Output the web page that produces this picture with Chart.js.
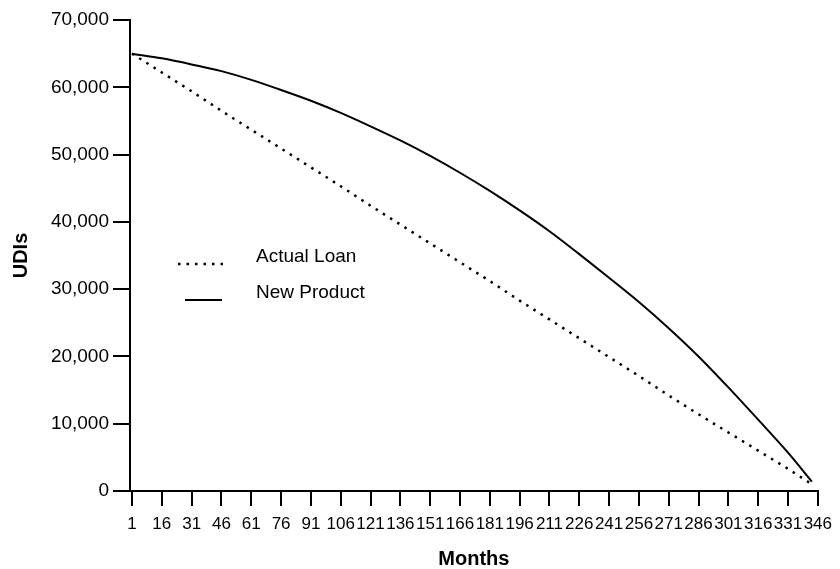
<!DOCTYPE html>
<html lang="en">
<head>
  <meta charset="UTF-8">
  <title>UDIs outstanding by month</title>
  <script src="https://cdn.jsdelivr.net/npm/chart.js"></script>
  <style>
    html, body { margin: 0; padding: 0; background: #fff; }
  </style>
</head>
<body>
  <canvas id="myChart" width="840" height="569"></canvas>
  <script>
    // Tick labels on the month axis
    const monthTicks = [1, 16, 31, 46, 61, 76, 91, 106, 121, 136, 151, 166,
                        181, 196, 211, 226, 241, 256, 271, 286, 301, 316, 331, 346];
    const pointMonths = [1, 16, 31, 46, 61, 76, 91, 106, 121, 136, 151, 166,
                         181, 196, 211, 226, 241, 256, 271, 286, 301, 316, 331, 343];
    // Balances in UDIs
    const actualLoan = [65000, 62200, 59400, 56500, 53700, 50900, 48100, 45300,
                        42400, 39600, 36800, 34000, 31200, 28300, 25500, 22700,
                        19900, 17100, 14200, 11400, 8700, 6000, 3300, 1000];
    const newProduct = [65000, 64300, 63400, 62400, 61100, 59600, 58000, 56200,
                        54200, 52100, 49800, 47300, 44600, 41700, 38600, 35200,
                        31700, 28100, 24200, 20000, 15400, 10600, 5700, 1400];
    const yTicks = [0, 10000, 20000, 30000, 40000, 50000, 60000, 70000];

    const FONT = '"Liberation Sans", Arial, Helvetica, sans-serif';
    Chart.defaults.color = '#000';
    Chart.defaults.font.family = FONT;

    // legend drawn inside the plot, next to the y axis
    const insideLegend = {
      id: 'insideLegend',
      afterDatasetsDraw(chart, args, opts) {
        const ctx = chart.ctx;
        chart.data.datasets.forEach((ds, i) => {
          const it = opts.items[i];
          ctx.save();
          ctx.strokeStyle = ds.borderColor;
          ctx.lineWidth = ds.borderWidth;
          ctx.setLineDash(ds.borderDash || []);
          ctx.beginPath();
          ctx.moveTo(it.x1, it.y);
          ctx.lineTo(it.x2, it.y);
          ctx.stroke();
          ctx.setLineDash([]);
          ctx.fillStyle = '#000';
          ctx.font = '19px ' + FONT;
          ctx.textBaseline = 'alphabetic';
          ctx.fillText(ds.label, it.tx, it.ty);
          ctx.restore();
        });
      }
    };

    const toPoints = vals => pointMonths.map((m, i) => ({ x: m, y: vals[i] }));

    const ctx = document.getElementById('myChart').getContext('2d');
    const myChart = new Chart(ctx, {
      type: 'line',
      data: {
        datasets: [{
          label: 'Actual Loan',
          data: toPoints(actualLoan),
          borderColor: '#000',
          borderWidth: 2.5,
          borderDash: [2.5, 6],
          pointRadius: 0,
          fill: false,
        }, {
          label: 'New Product',
          data: toPoints(newProduct),
          borderColor: '#000',
          borderWidth: 2,
          pointRadius: 0,
          cubicInterpolationMode: 'monotone',
          fill: false,
        }],
      },
      options: {
        responsive: false,
        animation: false,
        layout: { padding: { top: 20, right: 14, bottom: 0, left: 0 } },
        plugins: {
          legend: { display: false },
          tooltip: { enabled: false },
          insideLegend: {
            items: [
              { x1: 178, x2: 228, y: 264, tx: 256, ty: 262 },
              { x1: 185, x2: 222, y: 300, tx: 256, ty: 298 },
            ],
          },
        },
        scales: {
          x: {
            type: 'linear',
            min: 0,
            max: 346,
            afterFit(scale) { scale.height = 78; },
            afterBuildTicks(axis) { axis.ticks = monthTicks.map(v => ({ value: v })); },
            border: { display: true, color: '#000', width: 2 },
            grid: { drawOnChartArea: false, drawTicks: true, tickLength: 15, color: '#000', lineWidth: 2 },
            ticks: {
              autoSkip: false,
              maxRotation: 0,
              padding: 8,
              font: { size: 17 },
              color: '#000',
            },
            title: {
              display: true,
              text: 'Months',
              font: { size: 20, weight: 'bold', lineHeight: 1 },
              padding: { top: 0, bottom: 0 },
            },
          },
          y: {
            min: 0,
            max: 70000,
            afterFit(scale) { scale.width = 130; },
            afterBuildTicks(axis) { axis.ticks = yTicks.map(v => ({ value: v })); },
            border: { display: true, color: '#000', width: 2 },
            grid: { drawOnChartArea: false, drawTicks: true, tickLength: 17, color: '#000', lineWidth: 2 },
            ticks: {
              padding: 4,
              font: { size: 19 },
              color: '#000',
              callback: v => Number(v).toLocaleString('en-US'),
            },
            title: {
              display: true,
              text: 'UDIs',
              font: { size: 20, weight: 'bold' },
              padding: { top: 9, bottom: 0 },
            },
          },
        },
      },
      plugins: [insideLegend],
    });
  </script>
</body>
</html>
